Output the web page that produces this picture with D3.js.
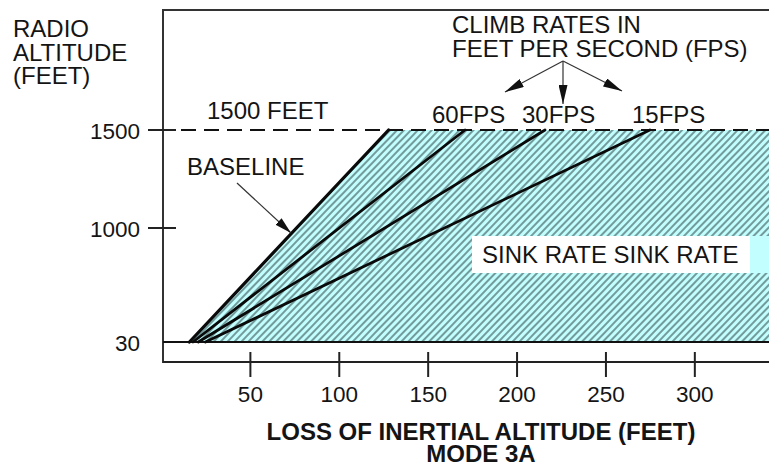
<!DOCTYPE html>
<html>
<head>
<meta charset="utf-8">
<script src="https://cdn.jsdelivr.net/npm/d3@7/dist/d3.min.js"></script>
<style>
  html, body { margin: 0; padding: 0; background: #fff; }
  svg { display: block; }
  text { font-family: "Liberation Sans", Arial, Helvetica, sans-serif; fill: #141414; }
</style>
</head>
<body>
<svg id="chart" width="769" height="463"></svg>
<script>
// ---------- data ----------
const xTicks = [50, 100, 150, 200, 250, 300];
const yTicks = [30, 1000, 1500];
const yTickLabels = ["30", "1000", "1500"];
const lineNames = ["BASELINE", "60FPS", "30FPS", "15FPS"];
const lossAt30 = [16, 18, 21, 25];        // loss of inertial altitude (ft) at 30 ft radio altitude
const lossAt1500 = [128, 171, 216, 275];  // loss of inertial altitude (ft) at 1500 ft radio altitude
const altLow = 30, altHigh = 1500;
const xMax = 342;

// ---------- scales ----------
const svg = d3.select("#chart");
const W = 769, H = 463;
const x = d3.scaleLinear().domain([0, xMax]).range([161, 769]);
// schematic (non-linear) altitude axis
const y = d3.scaleLinear().domain([30, 1000, 1500]).range([342, 228, 130]);

const axisX = x(0) + 2;          // left frame line
const topY = 10;                 // top frame line
const bottomY = y(altLow) + 20;  // x-axis line

// ---------- defs ----------
const defs = svg.append("defs");
const pat = defs.append("pattern")
  .attr("id", "hatch").attr("patternUnits", "userSpaceOnUse")
  .attr("width", 5).attr("height", 5)
  .attr("patternTransform", "rotate(44)");
pat.append("rect").attr("width", 5).attr("height", 5).attr("fill", "#c2fefe");
pat.append("line").attr("x1", 1).attr("y1", -1).attr("x2", 1).attr("y2", 6)
  .attr("stroke", "#4d6b6b").attr("stroke-width", 1.35);

function marker(id, len, wid) {
  defs.append("marker").attr("id", id)
    .attr("viewBox", `0 0 ${len} ${wid}`)
    .attr("refX", len).attr("refY", wid / 2)
    .attr("markerWidth", len).attr("markerHeight", wid)
    .attr("markerUnits", "userSpaceOnUse")
    .attr("orient", "auto")
    .append("path").attr("d", `M0,0 L${len},${wid / 2} L0,${wid} Z`).attr("fill", "#111");
}
marker("headBig", 19, 9);
marker("headBase", 17, 9);

// ---------- hatched region ----------
const region = [
  [lossAt30[0], altLow], [lossAt1500[0], altHigh], [xMax + 5, altHigh], [xMax + 5, altLow]
];
svg.append("path")
  .attr("d", d3.line().x(d => x(d[0])).y(d => y(d[1]))(region) + "Z")
  .attr("fill", "url(#hatch)");

// ---------- frame ----------
svg.append("line").attr("x1", axisX).attr("x2", W).attr("y1", topY).attr("y2", topY)
  .attr("stroke", "#333").attr("stroke-width", 2);
svg.append("line").attr("x1", axisX).attr("x2", axisX).attr("y1", topY - 1).attr("y2", bottomY + 1)
  .attr("stroke", "#333").attr("stroke-width", 2);

// 30 ft line
svg.append("line").attr("x1", axisX).attr("x2", W).attr("y1", y(altLow)).attr("y2", y(altLow))
  .attr("stroke", "#111").attr("stroke-width", 2);

// 1500 ft dashed line
svg.append("line").attr("x1", axisX + 18).attr("x2", W).attr("y1", y(altHigh)).attr("y2", y(altHigh))
  .attr("stroke", "#111").attr("stroke-width", 2).attr("stroke-dasharray", "15,8");

// ---------- x axis ----------
const xAxis = d3.axisBottom(x).tickValues(xTicks).tickSize(15).tickPadding(9).tickFormat(d3.format("d"));
const gx = svg.append("g").attr("transform", `translate(0,${bottomY})`).call(xAxis);
gx.select(".domain").remove();
gx.append("line").attr("x1", axisX).attr("x2", W).attr("y1", 0).attr("y2", 0)
  .attr("stroke", "#222").attr("stroke-width", 2);
gx.selectAll(".tick line").attr("stroke", "#222").attr("stroke-width", 2).attr("y1", -10);
gx.selectAll(".tick text").attr("font-size", 22.5).attr("fill", "#141414")
  .attr("font-family", "Liberation Sans, Arial, sans-serif").attr("dy", "0.71em");

// ---------- y axis ----------
const yAxis = d3.axisLeft(y).tickValues(yTicks).tickSize(0).tickPadding(0)
  .tickFormat((d, i) => yTickLabels[i]);
const gy = svg.append("g").attr("transform", `translate(${axisX - 23},0)`).call(yAxis);
gy.select(".domain").remove();
gy.selectAll(".tick text").attr("font-size", 22.5).attr("fill", "#141414")
  .attr("font-family", "Liberation Sans, Arial, sans-serif").attr("dy", "0.36em");
// tick marks for 1000 and 1500 crossing the axis
svg.selectAll(".ytick").data(yTicks.filter(d => d !== altLow)).enter().append("line")
  .attr("x1", axisX - 15).attr("x2", axisX + 13)
  .attr("y1", d => y(d)).attr("y2", d => y(d))
  .attr("stroke", "#222").attr("stroke-width", 2);

// ---------- lines ----------
svg.selectAll(".rate").data(lineNames).enter().append("line")
  .attr("x1", (d, i) => x(lossAt30[i])).attr("y1", y(altLow))
  .attr("x2", (d, i) => x(lossAt1500[i])).attr("y2", y(altHigh))
  .attr("stroke", "#0a0a0a")
  .attr("stroke-width", (d, i) => i === 0 ? 3.2 : 2.8)
  .attr("stroke-linecap", "round");

// ---------- white label box ----------
const fs = 24;
svg.append("rect").attr("x", 750).attr("y", 236).attr("width", 20).attr("height", 37).attr("fill", "#c2fefe");
svg.append("rect").attr("x", 472).attr("y", 236).attr("width", 278).attr("height", 37).attr("fill", "#fff");
svg.append("text").attr("x", 482).attr("y", 263).attr("font-size", fs).text("SINK RATE SINK RATE");

// ---------- texts ----------
const yTitle = svg.append("text").attr("x", 13).attr("font-size", fs);
["RADIO", "ALTITUDE", "(FEET)"].forEach((t, i) =>
  yTitle.append("tspan").attr("x", 13).attr("y", 37 + i * 23.5).text(t));

svg.append("text").attr("x", 207).attr("y", 119).attr("font-size", fs).text("1500 FEET");
svg.append("text").attr("x", 187).attr("y", 175).attr("font-size", fs).text("BASELINE");

const fpsLabelX = [432, 522, 632];
lineNames.slice(1).forEach((n, i) =>
  svg.append("text").attr("x", fpsLabelX[i]).attr("y", 123).attr("font-size", fs).text(n));

svg.append("text").attr("x", 452).attr("y", 33).attr("font-size", fs).text("CLIMB RATES IN");
svg.append("text").attr("x", 452).attr("y", 57).attr("font-size", fs).text("FEET PER SECOND (FPS)");

svg.append("text").attr("x", 481).attr("y", 440).attr("font-size", fs).attr("font-weight", "bold")
  .attr("text-anchor", "middle").text("LOSS OF INERTIAL ALTITUDE (FEET)");
svg.append("text").attr("x", 481).attr("y", 462).attr("font-size", fs).attr("font-weight", "bold")
  .attr("text-anchor", "middle").text("MODE 3A");

// ---------- arrows ----------
const climbOrigin = [563, 61];
const climbTips = [[505, 92], [563, 104], [622, 91]];
climbTips.forEach(t =>
  svg.append("line").attr("x1", climbOrigin[0]).attr("y1", climbOrigin[1])
    .attr("x2", t[0]).attr("y2", t[1])
    .attr("stroke", "#333").attr("stroke-width", 1.2).attr("marker-end", "url(#headBig)"));

svg.append("line").attr("x1", 237).attr("y1", 183).attr("x2", 291).attr("y2", 233)
  .attr("stroke", "#333").attr("stroke-width", 1.2).attr("marker-end", "url(#headBase)");
</script>
</body>
</html>
